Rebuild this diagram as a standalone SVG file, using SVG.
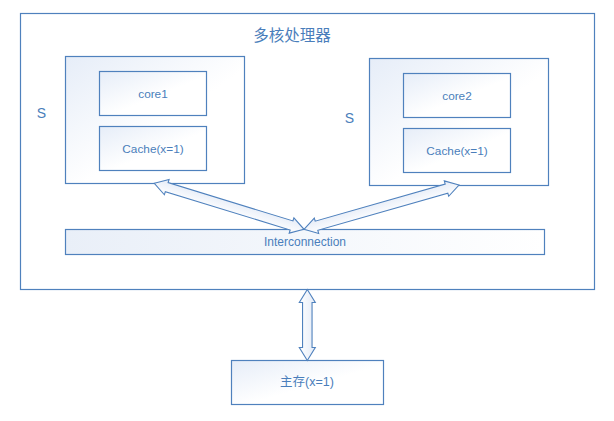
<svg xmlns="http://www.w3.org/2000/svg" width="614" height="421" viewBox="0 0 614 421">
<defs>
<linearGradient id="g" x1="0" y1="0" x2="1" y2="1">
<stop offset="0" stop-color="#e6edf8"/>
<stop offset="0.55" stop-color="#ffffff"/>
<stop offset="1" stop-color="#ffffff"/>
</linearGradient>
<linearGradient id="gh" x1="0" y1="0" x2="1" y2="0">
<stop offset="0" stop-color="#e9eff8"/>
<stop offset="1" stop-color="#ffffff"/>
</linearGradient>
<linearGradient id="ga" x1="0" y1="0" x2="0" y2="1">
<stop offset="0" stop-color="#e4ebf7"/>
<stop offset="1" stop-color="#ffffff"/>
</linearGradient>
</defs>
<style>
.box{fill:url(#g);stroke:#4f81bd;stroke-width:1.2}
.frame{fill:#ffffff;stroke:#4f81bd;stroke-width:1.2}
.arrow{fill:url(#ga);stroke:#4f81bd;stroke-width:1.1;stroke-linejoin:miter}
text{font-family:"Liberation Sans","Noto Sans CJK SC",sans-serif;fill:#4a7ebb;text-anchor:middle}
.t{font-size:11.8px}
.s{font-size:14px}
.title{font-size:15.5px}
</style>
<rect width="614" height="421" fill="#ffffff"/>
<g id="processor">
<rect class="frame" x="20.5" y="13.5" width="574" height="276"/>
<text class="title" x="292" y="41">多核处理器</text>
</g>
<g id="s1">
<rect class="box" x="65.5" y="56.5" width="179" height="127"/>
<text class="s" x="41.5" y="118">S</text>
</g>
<g id="core1">
<rect class="box" x="99.5" y="71.5" width="107" height="44"/>
<text class="t" x="153" y="97.5">core1</text>
</g>
<g id="cache1">
<rect class="box" x="99.5" y="126.5" width="107" height="44"/>
<text class="t" x="153" y="152.5">Cache(x=1)</text>
</g>
<g id="s2">
<rect class="box" x="369.5" y="58.5" width="179" height="127"/>
<text class="s" x="349.5" y="123">S</text>
</g>
<g id="core2">
<rect class="box" x="403.5" y="73.5" width="107" height="44"/>
<text class="t" x="457" y="99.5">core2</text>
</g>
<g id="cache2">
<rect class="box" x="403.5" y="128.5" width="107" height="44"/>
<text class="t" x="457" y="154.5">Cache(x=1)</text>
</g>
<g id="interconnection">
<rect x="65.5" y="229.5" width="479" height="25" fill="url(#gh)" stroke="#4f81bd" stroke-width="1.2"/>
<text class="t" x="305" y="245.5" style="font-size:12px">Interconnection</text>
</g>
<g id="memory">
<rect class="box" x="231.5" y="360.5" width="152" height="44"/>
<text x="307" y="386" style="font-size:12.5px">主存(x=1)</text>
</g>
<g id="connectors">
<g transform="translate(154.3,183.3) rotate(17.08)">
<polygon class="arrow" points="0,0 13,-8 13,-4.75 143.6,-4.75 143.6,-8 156.6,0 143.6,8 143.6,4.75 13,4.75 13,8"/>
</g>
<g transform="translate(304,229.3) rotate(-15.95)">
<polygon class="arrow" points="0,0 13,-8 13,-4.75 148.2,-4.75 148.2,-8 161.2,0 148.2,8 148.2,4.75 13,4.75 13,8"/>
</g>
<g transform="translate(307.3,289.5) rotate(90)">
<polygon class="arrow" points="0,0 13,-8 13,-4.75 58,-4.75 58,-8 71,0 58,8 58,4.75 13,4.75 13,8"/>
</g>
</g>
</svg>
